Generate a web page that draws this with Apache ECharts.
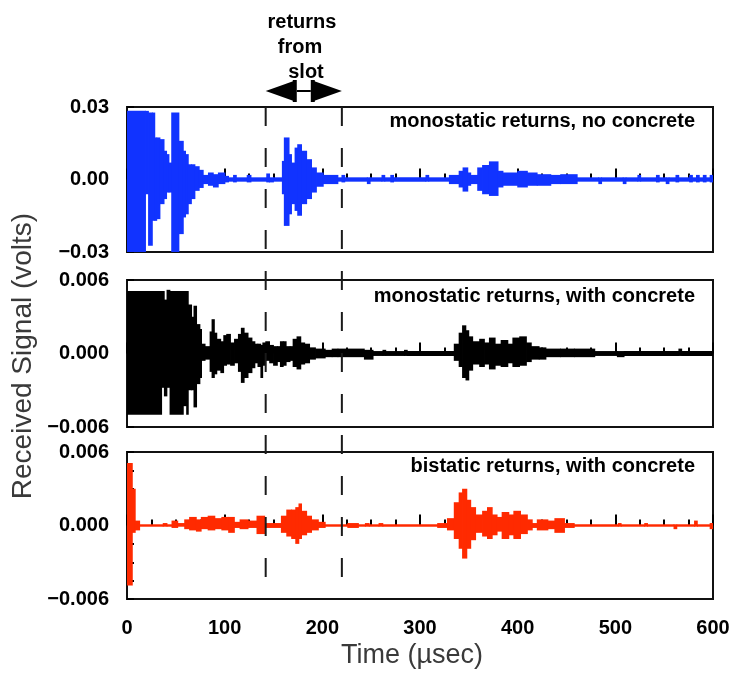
<!DOCTYPE html>
<html><head><meta charset="utf-8">
<script src="https://cdn.jsdelivr.net/npm/echarts@6/dist/echarts.min.js"></script>
<style>html,body{margin:0;padding:0;background:#fff}#c{width:733px;height:675px}</style>
</head><body><div id="c"></div>
<script>
// ---- Data (segments: start time in µsec, upper envelope, lower envelope, volts) ----
const topT  = [0,19,22,26,28.5,30.5,33.8,38,40.6,43,45.7,53.2,57.7,60,62.8,66,69.6,74,78.1,83.3,88.4,93.5,100.3,104,109,112,123,127,143,146,150,159,161,166,168.5,172,174.7,178.8,184,189,194,201,216,220,223,246,249,261,264,270,273,306,309,330,340,344,349,352,359,364,371,380,385,400,410,420,434,444,461,483,486,508,511,523,526,542,545,552,555,562,565,576,579,583,586,590,593,597];
const topHi = [.0284,.0284,.0277,.0277,.0174,.0174,.0167,.0119,.0105,.0070,.0277,.0160,.0119,.0105,.0063,.0063,.0055,.0040,.0019,.0029,.0022,.0029,.0015,.0009,.0019,.0009,.0019,.0009,.0025,.0009,.0009,.0077,.0174,.0105,.0070,.0132,.0146,.0119,.0084,.0050,.0029,.0019,.0009,.0019,.0009,.0009,.0009,.0019,.0009,.0019,.0009,.0019,.0009,.0019,.0036,.0050,.0029,.0019,.0050,.0060,.0075,.0036,.0029,.0036,.0029,.0022,.0019,.0022,.0009,.0009,.0009,.0009,.0009,.0019,.0009,.0019,.0009,.0009,.0009,.0019,.0009,.0019,.0009,.0019,.0009,.0019,.0009,.0019];
const topLo = [-.0300,-.0061,-.0274,-.0171,-.0171,-.0164,-.0102,-.0081,-.0054,-.0054,-.0300,-.0226,-.0157,-.0144,-.0102,-.0081,-.0047,-.0035,-.0019,-.0026,-.0033,-.0019,-.0012,-.0009,-.0012,-.0009,-.0012,-.0009,-.0012,-.0012,-.0009,-.0061,-.0192,-.0144,-.0102,-.0130,-.0150,-.0102,-.0081,-.0054,-.0030,-.0019,-.0009,-.0012,-.0009,-.0019,-.0009,-.0009,-.0009,-.0012,-.0009,-.0009,-.0009,-.0019,-.0033,-.0050,-.0026,-.0019,-.0047,-.0061,-.0068,-.0033,-.0026,-.0033,-.0026,-.0026,-.0019,-.0019,-.0009,-.0019,-.0009,-.0019,-.0009,-.0009,-.0009,-.0012,-.0009,-.0019,-.0009,-.0012,-.0009,-.0012,-.0009,-.0012,-.0009,-.0012,-.0009,-.0012];

const midT  = [0,35.5,38.2,40.9,44,57.7,61,62.8,66.2,68.5,71.3,74.7,76.4,80,85,87,89.5,92,96,99,102,106,110,114,117,120,124,128,131,134,137,139,142,146,150,154,157,160,163,167,170,174,178,182,187,193,203,210,216,243,252,262,265,284,287,335,340,343.5,347,350,354,361,366,371,377,383,390,395,402,409,414,422,429,444,458,479,502,509,565,568];
const midHi = [.0051,.0051,.0044,.0052,.0051,.0051,.0051,.0040,.0030,.0039,.0024,.0020,.0008,.0006,.0018,.0028,.0017,.0012,.0010,.0015,.0016,.0009,.0012,.0016,.0021,.0017,.0013,.0010,.0008,.0008,.0007,.0009,.0010,.0007,.0006,.0006,.0010,.0010,.0006,.0006,.0012,.0014,.0009,.0008,.0005,.0004,.0003,.0004,.0004,.0003,.0002,.0003,.0002,.0003,.0002,.0008,.0017,.0023,.0019,.0014,.0010,.0012,.0009,.0013,.0008,.0011,.0008,.0013,.0014,.0009,.0006,.0005,.0004,.0004,.0004,.0002,.0002,.0002,.0004,.0002];
const midLo = [-.0050,-.0028,-.0035,-.0028,-.0050,-.0043,-.0050,-.0030,-.0030,-.0044,-.0025,-.0020,-.0006,-.0005,-.0015,-.0020,-.0017,-.0014,-.0016,-.0010,-.0009,-.0010,-.0008,-.0015,-.0024,-.0020,-.0016,-.0012,-.0008,-.0011,-.0020,-.0010,-.0006,-.0008,-.0010,-.0007,-.0011,-.0010,-.0007,-.0006,-.0011,-.0013,-.0009,-.0008,-.0005,-.0004,-.0003,-.0003,-.0003,-.0005,-.0002,-.0002,-.0002,-.0002,-.0002,-.0006,-.0011,-.0020,-.0022,-.0014,-.0009,-.0011,-.0009,-.0013,-.0010,-.0011,-.0008,-.0011,-.0010,-.0007,-.0005,-.0005,-.0003,-.0003,-.0003,-.0002,-.0003,-.0002,-.0002,-.0002];

const botT  = [0,5.5,8.5,13,37,41,46,52,59,64,71,76,83,90,97,104,110,115.7,124,133,141,158,163.5,168.5,172.7,176,178.8,184,189,196,203,226,237,244,248,258,262,318,328,335,340,343.5,348,352,357,364,369,374,379,384,391,396,403,410,415,420,431,438,448,458,503,506,530,533,560,563,581,584,597];
const botHi = [.0051,.0030,.0004,.0001,.0002,.0001,.0004,.0002,.0005,.0007,.0005,.0007,.0008,.0006,.0007,.0007,.0003,.0005,.0004,.0008,.0002,.0008,.0013,.0013,.0015,.0018,.0012,.0008,.0005,.0003,.0001,.0002,.0001,.0002,.0001,.0002,.0001,.0002,.0006,.0019,.0027,.0030,.0021,.0015,.0009,.0012,.0015,.0009,.0007,.0011,.0009,.0012,.0009,.0005,.0002,.0005,.0004,.0006,.0002,.0001,.0002,.0001,.0002,.0001,.0001,.0001,.0004,.0001,.0002];
const botLo = [-.0049,-.0006,-.0004,-.0001,-.0001,-.0001,-.0002,-.0001,-.0003,-.0004,-.0005,-.0003,-.0004,-.0003,-.0004,-.0006,-.0002,-.0003,-.0002,-.0007,-.0002,-.0006,-.0009,-.0011,-.0015,-.0011,-.0008,-.0006,-.0004,-.0002,-.0001,-.0002,-.0001,-.0001,-.0001,-.0001,-.0001,-.0002,-.0004,-.0011,-.0019,-.0027,-.0019,-.0012,-.0006,-.0009,-.0011,-.0008,-.0005,-.0011,-.0008,-.0011,-.0007,-.0004,-.0002,-.0004,-.0003,-.0006,-.0002,-.0001,-.0001,-.0001,-.0001,-.0001,-.0003,-.0001,-.0001,-.0001,-.0003];

const slotLines = [142, 220];           // dashed markers (µsec)
const panelTitles = ['monostatic returns, no concrete', 'monostatic returns, with concrete', 'bistatic returns, with concrete'];
const yLabelsTop = ['0.03', '0.00', '\u22120.03'];
const yLabelsSmall = ['0.006', '0.000', '\u22120.006'];
const xTickLabels = ['0', '100', '200', '300', '400', '500', '600'];

// ---- Chart ----
const chart = echarts.init(document.getElementById('c'), null, {renderer: 'canvas'});
const F = 'Liberation Sans, Arial, sans-serif';
const T_MAX = 600;

function segs(T, H, L) {
  return T.map((t, i) => [t, i < T.length - 1 ? T[i + 1] : T_MAX, H[i], L[i]]);
}
function makeRender(color, minH) {
  return function (params, api) {
    const a = api.coord([api.value(0), api.value(2)]);
    const b = api.coord([api.value(1), api.value(3)]);
    let y0 = a[1], y1 = b[1];
    if (y1 - y0 < minH) { const m = (y0 + y1) / 2; y0 = m - minH / 2; y1 = m + minH / 2; }
    return {type: 'rect', shape: {x: a[0] - 0.4, y: y0, width: b[0] - a[0] + 0.8, height: y1 - y0},
            style: {fill: color}};
  };
}
const grids = [
  {left: 127, right: 20, top: 107, height: 145},
  {left: 127, right: 20, top: 280, height: 147},
  {left: 127, right: 20, top: 452, height: 147},
  {left: 127, right: 20, top: 107, height: 476}
];
grids.forEach((g, i) => { if (i < 3) { g.show = true; g.borderColor = '#111'; g.borderWidth = 2; } });

const ranges = [[-0.03, 0.03, 0.0075, yLabelsTop], [-0.006, 0.006, 0.0015, yLabelsSmall], [-0.006, 0.006, 0.0015, yLabelsSmall]];
const xAxes = [], yAxes = [];
for (let k = 0; k < 3; k++) {
  xAxes.push({
    gridIndex: k, type: 'value', min: 0, max: T_MAX, interval: 100,
    axisLine: {show: false},
    axisTick: {show: true, inside: true, length: 11, lineStyle: {color: '#000', width: 2}},
    minorTick: {show: true, splitNumber: 4, length: 6, lineStyle: {color: '#000', width: 2}},
    splitLine: {show: false},
    axisLabel: {show: k === 2, margin: 19, color: '#000', fontFamily: F, fontWeight: 'bold', fontSize: 20,
                formatter: v => xTickLabels[Math.round(v / 100)]}
  });
  const r = ranges[k];
  yAxes.push({
    gridIndex: k, type: 'value', min: r[0], max: r[1], interval: r[2],
    axisLine: {show: false},
    axisTick: {show: true, inside: true, length: 7, lineStyle: {color: '#000', width: 2}},
    splitLine: {show: false},
    axisLabel: {margin: 18, color: '#000', fontFamily: F, fontWeight: 'bold', fontSize: 20,
      formatter: v => Math.abs(v - r[1]) < 1e-9 ? r[3][0] : (Math.abs(v) < 1e-9 ? r[3][1] : (Math.abs(v - r[0]) < 1e-9 ? r[3][2] : ''))}
  });
}
xAxes.push({gridIndex: 3, type: 'value', min: 0, max: T_MAX, show: false});
yAxes.push({gridIndex: 3, type: 'value', min: 0, max: 1, show: false});

const series = [
  {type: 'custom', xAxisIndex: 0, yAxisIndex: 0, data: segs(topT, topHi, topLo), encode: {x: [0, 1], y: [2, 3]}, renderItem: makeRender('#1133ff', 3), clip: true, silent: true},
  {type: 'custom', xAxisIndex: 1, yAxisIndex: 1, data: segs(midT, midHi, midLo), encode: {x: [0, 1], y: [2, 3]}, renderItem: makeRender('#000000', 3), clip: true, silent: true},
  {type: 'custom', xAxisIndex: 2, yAxisIndex: 2, data: segs(botT, botHi, botLo), encode: {x: [0, 1], y: [2, 3]}, renderItem: makeRender('#ff2a00', 2), clip: true, silent: true}
];
slotLines.forEach(v => series.push({
  type: 'line', xAxisIndex: 3, yAxisIndex: 3, data: [[v, 1], [v, 0]], symbol: 'none', silent: true, z: 10,
  lineStyle: {color: '#1a1a1a', width: 2, type: [19, 22]}
}));

const graphic = [];
const titleY = [122, 297, 467];
panelTitles.forEach((t, i) => graphic.push({type: 'text', right: 38, top: titleY[i] - 11,
  style: {text: t, font: 'bold 20px ' + F, fill: '#000'}}));
[['returns', 302, 22], ['from', 300, 47], ['slot', 306, 72]].forEach(a => graphic.push({type: 'text', x: a[1], y: a[2],
  style: {text: a[0], font: 'bold 20px ' + F, fill: '#000', align: 'center', verticalAlign: 'middle'}}));
graphic.push({type: 'text', x: 412, y: 656, style: {text: 'Time (\u00b5sec)', font: '27px ' + F, fill: '#3a3a3a', align: 'center', verticalAlign: 'middle'}});
graphic.push({type: 'text', x: 23, y: 356, rotation: Math.PI / 2, style: {text: 'Received Signal (volts)', font: '28px ' + F, fill: '#3a3a3a', align: 'center', verticalAlign: 'middle'}});

chart.setOption({animation: false, grid: grids, xAxis: xAxes, yAxis: yAxes, series: series, graphic: graphic});

// arrow between the slot markers
const xa = chart.convertToPixel({xAxisIndex: 3}, slotLines[0]);
const xb = chart.convertToPixel({xAxisIndex: 3}, slotLines[1]);
const ay = 91, mid = (xa + xb) / 2;
const arrow = [
  {type: 'polygon', shape: {points: [[xa, ay], [mid - 10, ay - 10], [mid - 10, ay + 10]]}, style: {fill: '#000'}},
  {type: 'polygon', shape: {points: [[xb, ay], [mid + 10, ay - 10], [mid + 10, ay + 10]]}, style: {fill: '#000'}},
  {type: 'rect', shape: {x: mid - 11, y: ay - 11, width: 4, height: 22}, style: {fill: '#000'}},
  {type: 'rect', shape: {x: mid + 7, y: ay - 11, width: 4, height: 22}, style: {fill: '#000'}},
  {type: 'line', shape: {x1: mid - 7, y1: ay, x2: mid + 7, y2: ay}, style: {stroke: '#000', lineWidth: 2}}
];
chart.setOption({graphic: graphic.concat(arrow)});
</script>
</body></html>
